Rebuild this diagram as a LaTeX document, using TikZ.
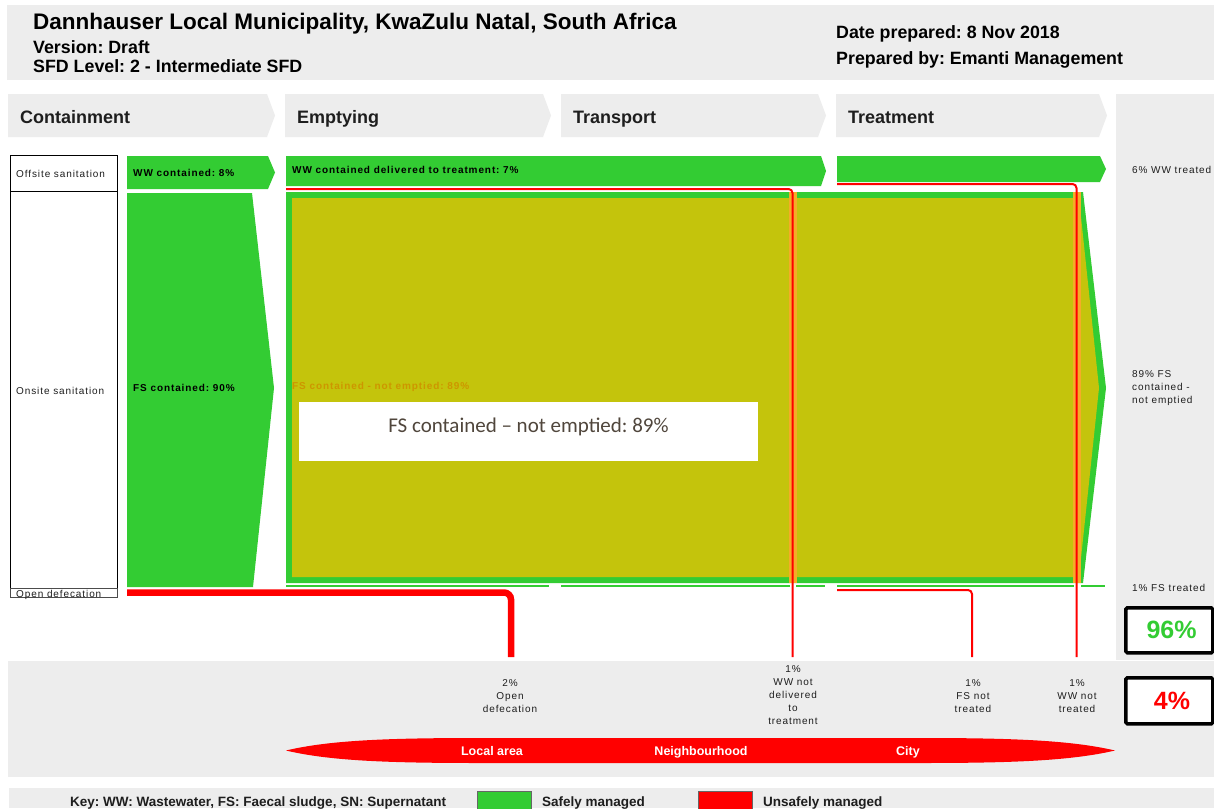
\documentclass[tikz,border=0pt]{standalone}
\usepackage{fontspec}
\setmainfont{Liberation Sans}
\newfontfamily\calibfont{Carlito}
\newfontfamily\lsp[LetterSpace=9]{Liberation Sans}
\definecolor{sgreen}{RGB}{51,204,51}
\definecolor{sred}{RGB}{255,0,0}
\definecolor{syel}{RGB}{196,196,12}
\definecolor{sgray}{RGB}{237,237,237}
\definecolor{sorange}{RGB}{245,172,40}
\definecolor{stxt}{RGB}{30,30,30}
\definecolor{ftxt}{RGB}{205,150,0}
\definecolor{boxtxt}{RGB}{80,70,60}
\tikzset{
  small/.style={font=\lsp\fontsize{10}{13}\selectfont, text=stxt, inner sep=0pt},
  barlbl/.style={font=\lsp\fontsize{10}{11}\selectfont\bfseries, text=black, anchor=base west, inner sep=0pt},
  stagelbl/.style={font=\fontsize{18}{20}\selectfont\bfseries, text=stxt, anchor=base west, inner sep=0pt},
  headlbl/.style={text=black, anchor=base west, inner sep=0pt},
  thinred/.style={draw=sred, line width=2pt, rounded corners=4pt},
  thickred/.style={draw=sred, line width=6.5pt, rounded corners=7pt},
  thingreen/.style={draw=sgreen, line width=2pt},
  sidelbl/.style={small, anchor=west, align=left},
  outlbl/.style={small, align=center},
  pctbox/.style={draw=black, line width=3.5pt, fill=white, rounded corners=1.5pt},
  pcttxt/.style={font=\fontsize{25}{28}\selectfont\bfseries, anchor=base, inner sep=0pt},
  lenslbl/.style={font=\fontsize{12.5}{14}\selectfont\bfseries, text=white, anchor=base, inner sep=0pt},
  keylbl/.style={font=\fontsize{13.5}{15}\selectfont\bfseries, text=stxt, anchor=base west, inner sep=0pt},
  rowbox/.style={draw=black, line width=0.8pt},
}
\begin{document}
\frenchspacing
\begin{tikzpicture}[x=1pt,y=-1pt]
\useasboundingbox (0,0) rectangle (1214,808);
\fill[white] (0,0) rectangle (1214,808);

% ---------- header ----------
\fill[sgray] (7,5) rectangle (1214,80);
\node[headlbl, font=\fontsize{22.5}{26}\selectfont\bfseries] (title) at (33,29.5) {Dannhauser Local Municipality, KwaZulu Natal, South Africa};
\node[headlbl, font=\fontsize{17.8}{20}\selectfont\bfseries] (version) at (33,53) {Version: Draft};
\node[headlbl, font=\fontsize{17.8}{20}\selectfont\bfseries] (level) at (33,73) {SFD Level: 2 - Intermediate SFD};
\node[headlbl, font=\fontsize{17.8}{20}\selectfont\bfseries] (date) at (836,38.5) {Date prepared: 8 Nov 2018};
\node[headlbl, font=\fontsize{17.8}{20}\selectfont\bfseries] (prep) at (836,64.5) {Prepared by: Emanti Management};

% ---------- stage chevrons ----------
\foreach \a/\b/\t/\n in {8/275/Containment/hcont, 285/551/Emptying/hempt, 561/826/Transport/htrans, 836/1107/Treatment/htreat} {
  \fill[sgray] (\a,94) -- (\b-8,94) -- (\b,115.5) -- (\b-8,137) -- (\a,137) -- cycle;
  \node[stagelbl] (\n) at (\a+12,123.5) {\t};
}

% ---------- right column & bottom bands ----------
\fill[sgray] (1116,94) rectangle (1214,660);
\fill[sgray] (8,661) rectangle (1214,777);
\fill[sgray] (9,788) rectangle (1214,808);

% ---------- left row labels ----------
\draw[rowbox] (10,155) rectangle (117,191);
\draw[rowbox] (10,191) rectangle (117,588);
\draw[rowbox, draw=black!70] (10,588) rectangle (117,597);
\node[small, anchor=base west] (offsite) at (16,177) {Offsite sanitation};
\node[small, anchor=base west] (onsite) at (16,394) {Onsite sanitation};
\node[small, anchor=base west] (opendef) at (16,597) {Open defecation};

% ---------- containment ----------
\fill[sgreen] (127,156) -- (268,156) -- (275,172.5) -- (268,189) -- (127,189) -- cycle;
\node[barlbl] (wwc) at (133,176) {WW contained: 8\%};
\fill[sgreen] (127,193) -- (252,193) -- (274,388) -- (253,587) -- (127,587) -- cycle;
\node[barlbl] (fsc) at (133,391) {FS contained: 90\%};

% ---------- offsite flow ----------
\fill[sgreen] (286,156) -- (821,156) -- (826,171) -- (821,186) -- (286,186) -- cycle;
\node[barlbl] (wwd) at (292,173) {WW contained delivered to treatment: 7\%};
\fill[sgreen] (837,156) -- (1100,156) -- (1106,169) -- (1100,182) -- (837,182) -- cycle;

% ---------- big FS not emptied region ----------
\fill[sgreen] (286,192) -- (1083,192) -- (1106,388) -- (1083,583) -- (286,583) -- cycle;
\fill[syel] (292,198) -- (1079,198) -- (1099,388) -- (1079,577) -- (292,577) -- cycle;
\fill[sorange] (788.5,192) rectangle (796.5,583);
\fill[sorange] (1072.5,192) rectangle (1080.5,583);
\node[barlbl, text=ftxt] (fsne) at (292,389) {FS contained - not emptied: 89\%};

% thin green lines (FS treated)
\draw[thingreen] (286,585.5) -- (549,585.5);
\draw[thingreen] (561,585.5) -- (790,585.5);
\draw[thingreen] (796,585.5) -- (825,585.5);
\draw[thingreen] (837,585.5) -- (1074,585.5);
\draw[thingreen] (1081,585.5) -- (1105,585.5);

% ---------- red (unsafe) flows ----------
\coordinate (odS) at (127,592.5);
\coordinate (odC) at (511,592.5);
\coordinate (odE) at (511,657);
\draw[thickred] (odS) -- (odC) -- (odE);

\coordinate (wndS) at (286,189);
\coordinate (wndC) at (792.5,189);
\coordinate (wndE) at (792.5,657);
\draw[thinred] (wndS) -- (wndC) -- (wndE);

\coordinate (wntS) at (837,184);
\coordinate (wntC) at (1076.5,184);
\coordinate (wntE) at (1076.5,657);
\draw[thinred] (wntS) -- (wntC) -- (wntE);

\coordinate (fntS) at (837,590);
\coordinate (fntC) at (972,590);
\coordinate (fntE) at (972,657);
\draw[thinred] (fntS) -- (fntC) -- (fntE);

% ---------- white overlay box ----------
\node[fill=white, minimum width=459pt, minimum height=59pt, inner sep=0pt, anchor=north west] (ovbox) at (299,402) {};
\node[font=\calibfont\fontsize{21}{24}\selectfont, text=boxtxt, anchor=base, inner sep=0pt] (ovtxt) at (528.5,432) {FS contained – not emptied: 89\%};

% ---------- right column labels ----------
\node[small, anchor=base west] (wwt) at (1132,173) {6\% WW treated};
\node[sidelbl] (fsnel) at (1132,388) {89\% FS\\contained -\\not emptied};
\node[small, anchor=base west] (fst) at (1132,591) {1\% FS treated};

\node[pctbox, minimum width=87pt, minimum height=45pt, inner sep=0pt, anchor=north west] (box96) at (1124,606) {};
\node[pcttxt, text=sgreen] (t96) at (1171.5,638) {96\%};
\node[pctbox, minimum width=87pt, minimum height=46pt, inner sep=0pt, anchor=north west] (box4) at (1124,676) {};
\node[pcttxt, text=sred] (t4) at (1172,709) {4\%};

% ---------- bottom outcome labels ----------
\node[outlbl] (lod) at (510,696) {2\%\\Open\\defecation};
\node[outlbl] (lwnd) at (793,695.5) {1\%\\WW not\\delivered\\to\\treatment};
\node[outlbl] (lfnt) at (973,696) {1\%\\FS not\\treated};
\node[outlbl] (lwnt) at (1077,696) {1\%\\WW not\\treated};

% ---------- red lens ----------
\fill[sred] (286,750.5) .. controls (330,740) and (390,738) .. (480,738) -- (920,738)
  .. controls (1010,738) and (1070,740) .. (1115,750.5)
  .. controls (1070,761) and (1010,763) .. (920,763) -- (480,763)
  .. controls (390,763) and (330,761) .. cycle;
\node[lenslbl] (local) at (492,755) {Local area};
\node[lenslbl] (neigh) at (701,755) {Neighbourhood};
\node[lenslbl] (city) at (908,755) {City};

% ---------- key ----------
\node[keylbl] (key) at (70,806.5) {Key: WW: Wastewater, FS: Faecal sludge, SN: Supernatant};
\draw[fill=sgreen, draw=black!60, line width=0.8pt] (477,791.5) rectangle (531,810);
\node[keylbl] (safe) at (542,806.5) {Safely managed};
\draw[fill=sred, draw=black!60, line width=0.8pt] (698,791.5) rectangle (752,810);
\node[keylbl] (unsafe) at (763,806.5) {Unsafely managed};
\end{tikzpicture}
\end{document}
